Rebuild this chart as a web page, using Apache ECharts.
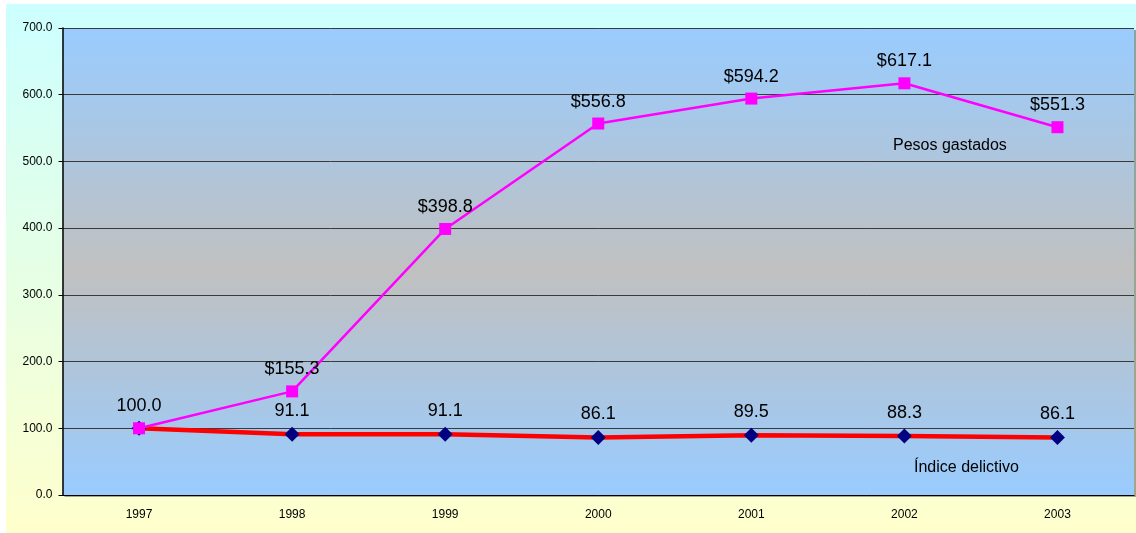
<!DOCTYPE html>
<html>
<head>
<meta charset="utf-8">
<script src="https://cdn.jsdelivr.net/npm/echarts@6/dist/echarts.min.js"></script>
<style>
  html, body { margin: 0; padding: 0; background: #fff; }
  #chart { position: absolute; left: 6px; top: 4px; width: 1130px; height: 529px; }
</style>
</head>
<body>
<div id="chart"></div>
<script>
const years = ['1997', '1998', '1999', '2000', '2001', '2002', '2003']
const pesosGastados = [100.0, 155.3, 398.8, 556.8, 594.2, 617.1, 551.3]
const indiceDelictivo = [100.0, 91.1, 91.1, 86.1, 89.5, 88.3, 86.1]
const yTicks = { min: 0, max: 700, interval: 100 }

const font = 'Liberation Sans, Arial, sans-serif'
const chart = echarts.init(document.getElementById('chart'))

chart.setOption({
  animation: false,
  backgroundColor: {
    type: 'linear', x: 0, y: 0, x2: 0, y2: 1,
    colorStops: [
      { offset: 0, color: '#CCFFFF' },
      { offset: 1, color: '#FFFFCC' }
    ]
  },
  textStyle: { fontFamily: font },
  grid: {
    left: 56.5,
    right: 2,
    top: 24,
    bottom: 38,
    show: true,
    borderWidth: 0,
    backgroundColor: {
      type: 'linear', x: 0, y: 0, x2: 0, y2: 1,
      colorStops: [
        { offset: 0, color: '#99CCFF' },
        { offset: 0.52, color: '#C0C0C0' },
        { offset: 1, color: '#99CCFF' }
      ]
    },
    shadowColor: 'rgba(0,0,0,0.35)',
    shadowOffsetX: 2,
    shadowOffsetY: 2,
    shadowBlur: 0
  },
  xAxis: {
    type: 'category',
    data: years,
    boundaryGap: true,
    axisLine: { lineStyle: { color: '#000', width: 1 } },
    axisTick: { length: 4, lineStyle: { color: '#000' } },
    axisLabel: { color: '#000', fontSize: 12, margin: 14, fontFamily: font }
  },
  yAxis: {
    type: 'value',
    min: yTicks.min,
    max: yTicks.max,
    interval: yTicks.interval,
    axisLine: { show: true, lineStyle: { color: '#000', width: 1.5 } },
    axisTick: { show: true, length: 4, lineStyle: { color: '#000' } },
    axisLabel: {
      color: '#000', fontSize: 12, margin: 10, fontFamily: font,
      formatter: v => v.toFixed(1)
    },
    splitLine: { lineStyle: { color: '#3a3a3a', width: 1 } }
  },
  series: [
    {
      name: 'Índice delictivo',
      type: 'line',
      data: indiceDelictivo,
      symbol: 'diamond',
      symbolSize: 15,
      lineStyle: { color: '#FF0000', width: 4.5 },
      itemStyle: { color: '#000080' },
      label: {
        show: true,
        position: 'top',
        distance: 7,
        color: '#000',
        fontSize: 18,
        fontFamily: font,
        formatter: p => (p.dataIndex === 0 ? '' : p.value.toFixed(1))
      },
      z: 2
    },
    {
      name: 'Pesos gastados',
      type: 'line',
      data: pesosGastados,
      symbol: 'rect',
      symbolSize: 12,
      lineStyle: { color: '#FF00FF', width: 2.5 },
      itemStyle: { color: '#FF00FF' },
      label: {
        show: true,
        position: 'top',
        distance: 7,
        color: '#000',
        fontSize: 18,
        fontFamily: font,
        formatter: p => (p.dataIndex === 0 ? p.value.toFixed(1) : '$' + p.value.toFixed(1))
      },
      z: 3
    }
  ],
  graphic: [
    {
      type: 'text',
      left: 887,
      top: 134,
      style: { text: 'Pesos gastados', fill: '#000', fontSize: 16, fontFamily: font }
    },
    {
      type: 'text',
      left: 908,
      top: 456,
      style: { text: 'Índice delictivo', fill: '#000', fontSize: 16, fontFamily: font }
    }
  ]
})
</script>
</body>
</html>
